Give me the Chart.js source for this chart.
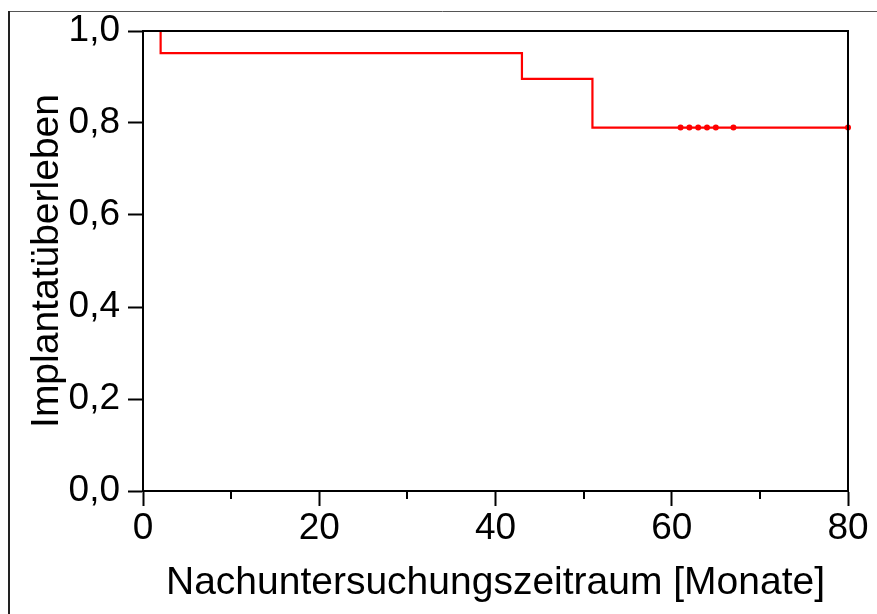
<!DOCTYPE html>
<html>
<head>
<meta charset="utf-8">
<script src="https://cdn.jsdelivr.net/npm/chart.js@4/dist/chart.umd.min.js"></script>
<style>
  html, body { margin: 0; padding: 0; background: #fff; }
  #wrap { width: 877px; height: 614px; position: relative; }
</style>
</head>
<body>
<div id="wrap"><canvas id="c" width="877" height="614"></canvas></div>
<script>
// Kaplan-Meier step data (event times and survival after each event)
const eventTimes = [0, 2, 43, 51, 80];
const survival   = [1.0, 0.952, 0.896, 0.790, 0.790];
// censored observations
const censorTimes = [61, 62, 63, 64, 65, 67, 80];
const censorSurv  = [0.790, 0.790, 0.790, 0.790, 0.790, 0.790, 0.790];
// axes
const xMajorTicks = [0, 20, 40, 60, 80];
const xMinorTicks = [10, 30, 50, 70];
const yTickLabels = ['0,0', '0,2', '0,4', '0,6', '0,8', '1,0'];
const xTitle = 'Nachuntersuchungszeitraum [Monate]';
const yTitle = 'Implantatüberleben';

const FONT = '"Liberation Sans", Arial, Helvetica, sans-serif';

const framePlugin = {
  id: 'frame',
  beforeDraw(chart) {
    const ctx = chart.ctx;
    ctx.save();
    ctx.fillStyle = '#fff';
    ctx.fillRect(0, 0, chart.width, chart.height);
    // outer figure frame (cropped)
    ctx.strokeStyle = '#555';
    ctx.lineWidth = 1;
    ctx.beginPath();
    ctx.moveTo(8, 11.5); ctx.lineTo(chart.width, 11.5);
    ctx.stroke();
    ctx.strokeStyle = '#222';
    ctx.lineWidth = 2;
    ctx.beginPath();
    ctx.moveTo(9, 11); ctx.lineTo(9, chart.height);
    ctx.stroke();
    ctx.restore();
  },
  afterDraw(chart) {
    const ctx = chart.ctx;
    const a = chart.chartArea;
    const xs = chart.scales.x;
    ctx.save();
    ctx.strokeStyle = '#000';
    ctx.lineWidth = 2;
    // top and right plot frame
    ctx.beginPath();
    ctx.moveTo(a.left, a.top);
    ctx.lineTo(a.right, a.top);
    ctx.lineTo(a.right, a.bottom);
    ctx.stroke();
    // minor x ticks
    ctx.beginPath();
    xMinorTicks.forEach(v => {
      const px = Math.round(xs.getPixelForValue(v));
      ctx.moveTo(px, a.bottom);
      ctx.lineTo(px, a.bottom + 8);
    });
    ctx.stroke();
    ctx.restore();
  }
};

new Chart(document.getElementById('c'), {
  type: 'line',
  data: {
    datasets: [
      {
        label: 'KM',
        data: eventTimes.map((t, i) => ({ x: t, y: survival[i] })),
        borderColor: '#ff0000',
        borderWidth: 2.2,
        stepped: 'before',
        pointRadius: 0,
        fill: false,
        clip: false
      },
      {
        label: 'zensiert',
        type: 'scatter',
        data: censorTimes.map((t, i) => ({ x: t, y: censorSurv[i] })),
        backgroundColor: '#ff0000',
        borderColor: '#ff0000',
        pointRadius: 3,
        borderWidth: 0,
        showLine: false,
        clip: false
      }
    ]
  },
  options: {
    responsive: false,
    animation: false,
    devicePixelRatio: 1,
    layout: { padding: { left: 20, right: 29, top: 31, bottom: 0 } },
    plugins: { legend: { display: false }, tooltip: { enabled: false } },
    scales: {
      x: {
        type: 'linear',
        min: 0, max: 80,
        afterBuildTicks(scale) { scale.ticks = xMajorTicks.map(v => ({ value: v })); },
        afterFit(scale) { scale.height = 123; },
        grid: { drawOnChartArea: false, tickLength: 15, tickWidth: 2, tickColor: '#000' },
        border: { display: true, color: '#000', width: 2 },
        ticks: {
          color: '#000', padding: 1, maxRotation: 0, autoSkip: false,
          font: { family: FONT, size: 37 },
          callback: v => String(v)
        },
        title: {
          display: true, text: xTitle, color: '#000',
          font: { family: FONT, size: 39 },
          padding: { top: 0, bottom: 7 }
        }
      },
      y: {
        type: 'linear',
        min: 0, max: 1,
        afterBuildTicks(scale) { scale.ticks = yTickLabels.map((s, i) => ({ value: i * 0.2 })); },
        afterFit(scale) { scale.width = 123; },
        grid: { drawOnChartArea: false, tickLength: 15, tickWidth: 2, tickColor: '#000' },
        border: { display: true, color: '#000', width: 2 },
        ticks: {
          color: '#000', padding: 8, autoSkip: false,
          font: { family: FONT, size: 37 },
          callback: (v, i) => yTickLabels[i]
        },
        title: {
          display: true, text: yTitle, color: '#000',
          font: { family: FONT, size: 39 },
          padding: { top: 4, bottom: 0 }
        }
      }
    }
  },
  plugins: [framePlugin]
});
</script>
</body>
</html>
